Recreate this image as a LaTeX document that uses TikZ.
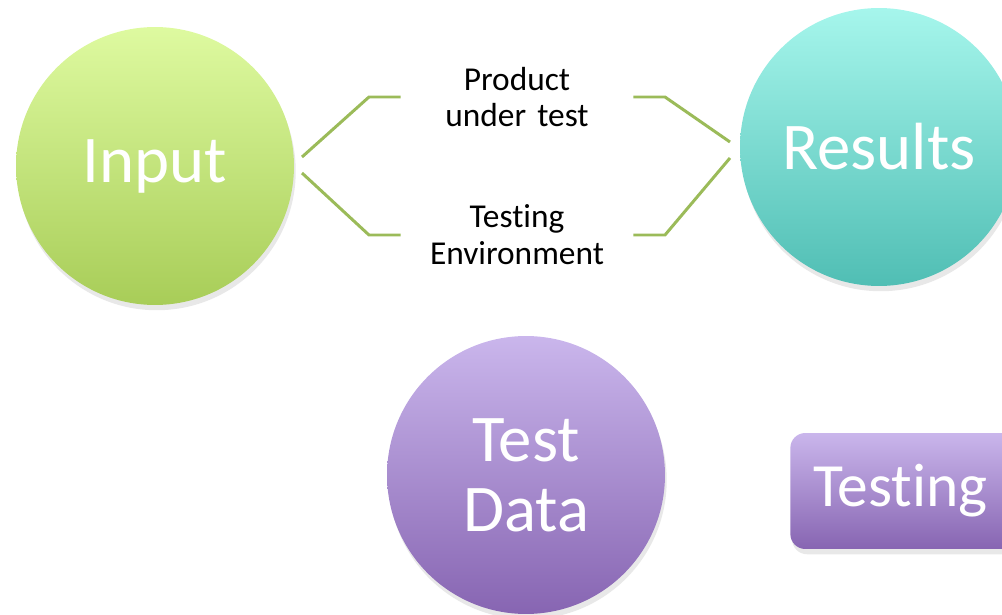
\documentclass[tikz,border=0pt]{standalone}
\usepackage{fontspec}
\setmainfont{Carlito}[Ligatures=NoCommon]
\usetikzlibrary{shadows,positioning}

\definecolor{brace}{RGB}{155,187,89}
\definecolor{greenTop}{RGB}{222,250,160}
\definecolor{greenBot}{RGB}{168,205,88}
\definecolor{tealTop}{RGB}{166,246,236}
\definecolor{tealBot}{RGB}{80,190,180}
\definecolor{lilacTop}{RGB}{202,182,236}
\definecolor{lilacBot}{RGB}{135,101,178}

\tikzset{
  ball/.style={circle,minimum size=5.56cm,inner sep=0pt,text=white,
    font=\fontsize{38}{40}\selectfont,align=center,
    drop shadow={opacity=0.18,shadow xshift=1pt,shadow yshift=-3pt}},
  label text/.style={text width=4.64cm,inner sep=0pt,align=center,
    font=\fontsize{19}{21}\selectfont},
  brace line/.style={draw=brace,line width=1.7pt}
}

\begin{document}
\begin{tikzpicture}[x=0.02cm,y=-0.02cm]
\useasboundingbox (0,0) rectangle (1002,615);
\clip (0,0) rectangle (1002,615);

% circles
\node[ball,top color=greenTop,bottom color=greenBot] (input) at (155,166) {Input};
\node[ball,top color=tealTop,bottom color=tealBot] (results) at (879,147) {Results};
\node[ball,top color=lilacTop,bottom color=lilacBot] (data) at (526,475) {Test\\Data};

% box on the right, cut by the frame
\node[anchor=west,rounded corners=8.5pt,minimum height=2.32cm,minimum width=8cm,
  inner xsep=13pt,text=white,font=\fontsize{35}{36}\selectfont,align=left,
  top color=lilacTop,bottom color=lilacBot,
  drop shadow={opacity=0.18,shadow xshift=1pt,shadow yshift=-3pt}] (box) at (790,491) {Testing environment};

% the two middle labels
\node[label text] (prod) at (517,97) {Product\\under test};
\node[label text] (env) at (517,235) {Testing\\Environment};

\coordinate (inU) at (302,157);
\coordinate (inL) at (302,173);
\coordinate (resU) at (730,142);
\coordinate (resL) at (730,158);

\draw[brace line] (inU)--(369,97)--(prod.west|-0,97) (prod.east|-0,97)--(665,97)--(resU);
\draw[brace line] (inL)--(369,235)--(env.west|-0,235) (env.east|-0,235)--(665,235)--(resL);
\end{tikzpicture}
\end{document}
